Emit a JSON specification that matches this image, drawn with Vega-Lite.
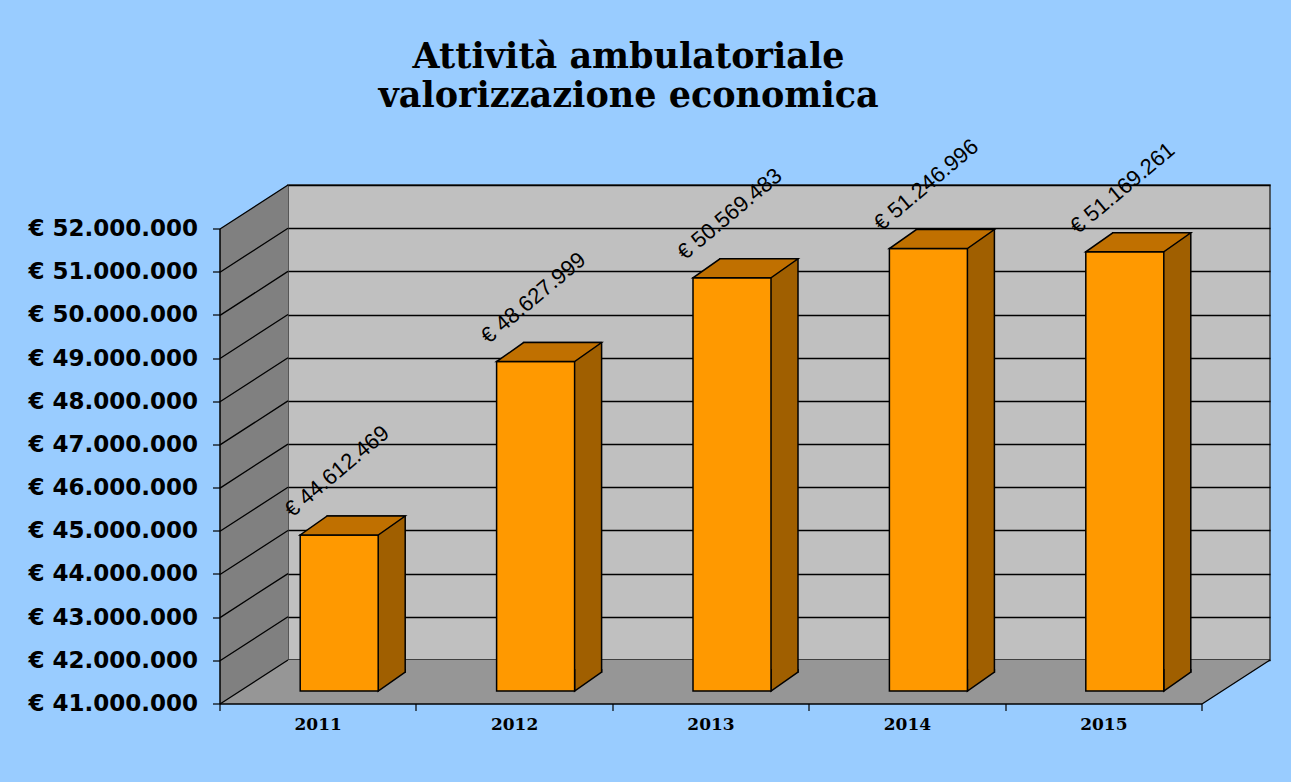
{
  "$schema": "https://vega.github.io/schema/vega-lite/v6.json",
  "width": 982,
  "height": 475,
  "autosize": {"type": "none"},
  "padding": {"left": 288, "top": 185, "right": 21, "bottom": 122},
  "background": "#99CCFF",
  "title": {
    "text": ["Attività ambulatoriale", "valorizzazione economica"],
    "font": "DejaVu Serif",
    "fontSize": 35,
    "fontWeight": "bold",
    "color": "black",
    "lineHeight": 39,
    "anchor": "middle",
    "frame": "bounds",
    "offset": 21
  },
  "data": {
    "values": [
      {"year": "2011", "value": 44612469},
      {"year": "2012", "value": 48627999},
      {"year": "2013", "value": 50569483},
      {"year": "2014", "value": 51246996},
      {"year": "2015", "value": 51169261}
    ]
  },
  "layer": [
    {
      "data": {"values": [{}]},
      "mark": {"type": "point", "shape": "M 0 0 L 0 -475 L -68 -431 L -68 44 Z", "size": 4, "filled": true, "fill": "#808080", "strokeWidth": 0, "opacity": 1},
      "encoding": {
        "x": {"datum": "2011", "type": "nominal", "bandPosition": 0, "scale": {"type": "band", "paddingInner": 0, "paddingOuter": 0}, "axis": null},
        "y": {"datum": 41000000, "type": "quantitative", "scale": {"domain": [41000000, 52000000], "zero": false, "nice": false}, "axis": null}
      }
    },
    {
      "data": {"values": [{}]},
      "mark": {"type": "point", "shape": "M 0 0 L 982 0 L 914 44 L -68 44 Z", "size": 4, "filled": true, "fill": "#969696", "strokeWidth": 0, "opacity": 1},
      "encoding": {
        "x": {"datum": "2011", "type": "nominal", "bandPosition": 0, "scale": {"type": "band", "paddingInner": 0, "paddingOuter": 0}, "axis": null},
        "y": {"datum": 41000000, "type": "quantitative", "scale": {"domain": [41000000, 52000000], "zero": false, "nice": false}, "axis": null}
      }
    },
    {
      "data": {"values": [{}]},
      "mark": {"type": "point", "shape": "M -68 44 L 0 0 M -68 0.8 L 0 -43.2 M -68 -42.4 L 0 -86.4 M -68 -85.5 L 0 -129.5 M -68 -128.7 L 0 -172.7 M -68 -171.9 L 0 -215.9 M -68 -215.1 L 0 -259.1 M -68 -258.3 L 0 -302.3 M -68 -301.5 L 0 -345.5 M -68 -344.6 L 0 -388.6 M -68 -387.8 L 0 -431.8 M -68 -431 L 0 -475 M 982 0 L 914 44", "size": 4, "filled": false, "stroke": "black", "strokeWidth": 1.3, "opacity": 1},
      "encoding": {
        "x": {"datum": "2011", "type": "nominal", "bandPosition": 0, "scale": {"type": "band", "paddingInner": 0, "paddingOuter": 0}, "axis": null},
        "y": {"datum": 41000000, "type": "quantitative", "scale": {"domain": [41000000, 52000000], "zero": false, "nice": false}, "axis": null}
      }
    },
    {
      "mark": {"type": "bar", "width": 78, "xOffset": -20, "yOffset": 12, "y2Offset": 12, "fill": "#A05F00", "stroke": "black", "strokeWidth": 1.5},
      "encoding": {
        "x": {"field": "year", "type": "nominal", "scale": {"type": "band", "paddingInner": 0, "paddingOuter": 0}, "axis": null},
        "y": {"field": "value", "type": "quantitative", "scale": {"domain": [41000000, 52000000], "zero": false, "nice": false},
          "axis": {"title": null, "orient": "right", "labels": false, "ticks": false, "domain": false, "grid": true, "gridColor": "black", "gridWidth": 1.5, "gridOpacity": 1, "tickCount": 11, "zindex": 0}},
        "y2": {"datum": 41000000}
      }
    },
    {
      "mark": {"type": "point", "shape": "M 39 -22 L 39 0 L 66 -19 L 66 -22", "size": 4, "filled": true, "fill": "#A05F00", "stroke": "black", "strokeWidth": 1.5, "opacity": 1, "xOffset": -47, "yOffset": 31},
      "encoding": {
        "x": {"field": "year", "type": "nominal", "scale": {"type": "band", "paddingInner": 0, "paddingOuter": 0}, "axis": null},
        "y": {"datum": 41000000, "type": "quantitative", "scale": {"domain": [41000000, 52000000], "zero": false, "nice": false}, "axis": null}
      }
    },
    {
      "mark": {"type": "bar", "width": 78, "xOffset": -47, "yOffset": 31, "y2Offset": 31, "fill": "#FF9900", "stroke": "black", "strokeWidth": 1.5},
      "encoding": {
        "x": {"field": "year", "type": "nominal", "scale": {"type": "band", "paddingInner": 0, "paddingOuter": 0},
          "axis": {"title": null, "orient": "bottom", "offset": 112, "translate": -68, "tickBand": "extent", "tickSize": 7, "tickColor": "black", "tickWidth": 1.2, "domainColor": "black", "domainWidth": 1.5, "labelFont": "DejaVu Serif", "labelFontWeight": "bold", "labelFontSize": 17, "labelColor": "black", "labelPadding": 6, "labelAngle": 0, "grid": false, "zindex": 1}},
        "y": {"field": "value", "type": "quantitative", "scale": {"domain": [41000000, 52000000], "zero": false, "nice": false},
          "axis": {"title": null, "orient": "left", "offset": 112, "translate": 44, "tickCount": 11, "format": "$,.0f", "tickSize": 7, "tickColor": "black", "tickWidth": 1.2, "domainColor": "black", "domainWidth": 1.5, "labelFont": "DejaVu Sans", "labelFontWeight": "bold", "labelFontSize": 23, "labelColor": "black", "labelPadding": 15, "labelLimit": 400, "grid": false, "zindex": 1}},
        "y2": {"datum": 41000000}
      }
    },
    {
      "mark": {"type": "point", "shape": "M -39 0 L 39 0 L 66 -19 L -12 -19 Z", "size": 4, "filled": true, "fill": "#C07000", "stroke": "black", "strokeWidth": 1.5, "opacity": 1, "xOffset": -47, "yOffset": 31},
      "encoding": {
        "x": {"field": "year", "type": "nominal", "scale": {"type": "band", "paddingInner": 0, "paddingOuter": 0}, "axis": null},
        "y": {"field": "value", "type": "quantitative", "scale": {"domain": [41000000, 52000000], "zero": false, "nice": false}, "axis": null}
      }
    },
    {
      "mark": {"type": "text", "font": "Liberation Sans", "fontSize": 22, "color": "black", "angle": 320, "align": "left", "baseline": "alphabetic", "xOffset": -94, "yOffset": 14},
      "encoding": {
        "x": {"field": "year", "type": "nominal", "scale": {"type": "band", "paddingInner": 0, "paddingOuter": 0}, "axis": null},
        "y": {"field": "value", "type": "quantitative", "scale": {"domain": [41000000, 52000000], "zero": false, "nice": false}, "axis": null},
        "text": {"field": "value", "type": "quantitative", "format": "$,.0f"}
      }
    }
  ],
  "resolve": {"axis": {"y": "independent", "x": "independent"}},
  "config": {
    "locale": {"number": {"decimal": ",", "thousands": ".", "grouping": [3], "currency": ["€ ", ""]}},
    "view": {"fill": "#C0C0C0", "stroke": "#333333", "strokeWidth": 1.5}
  }
}
